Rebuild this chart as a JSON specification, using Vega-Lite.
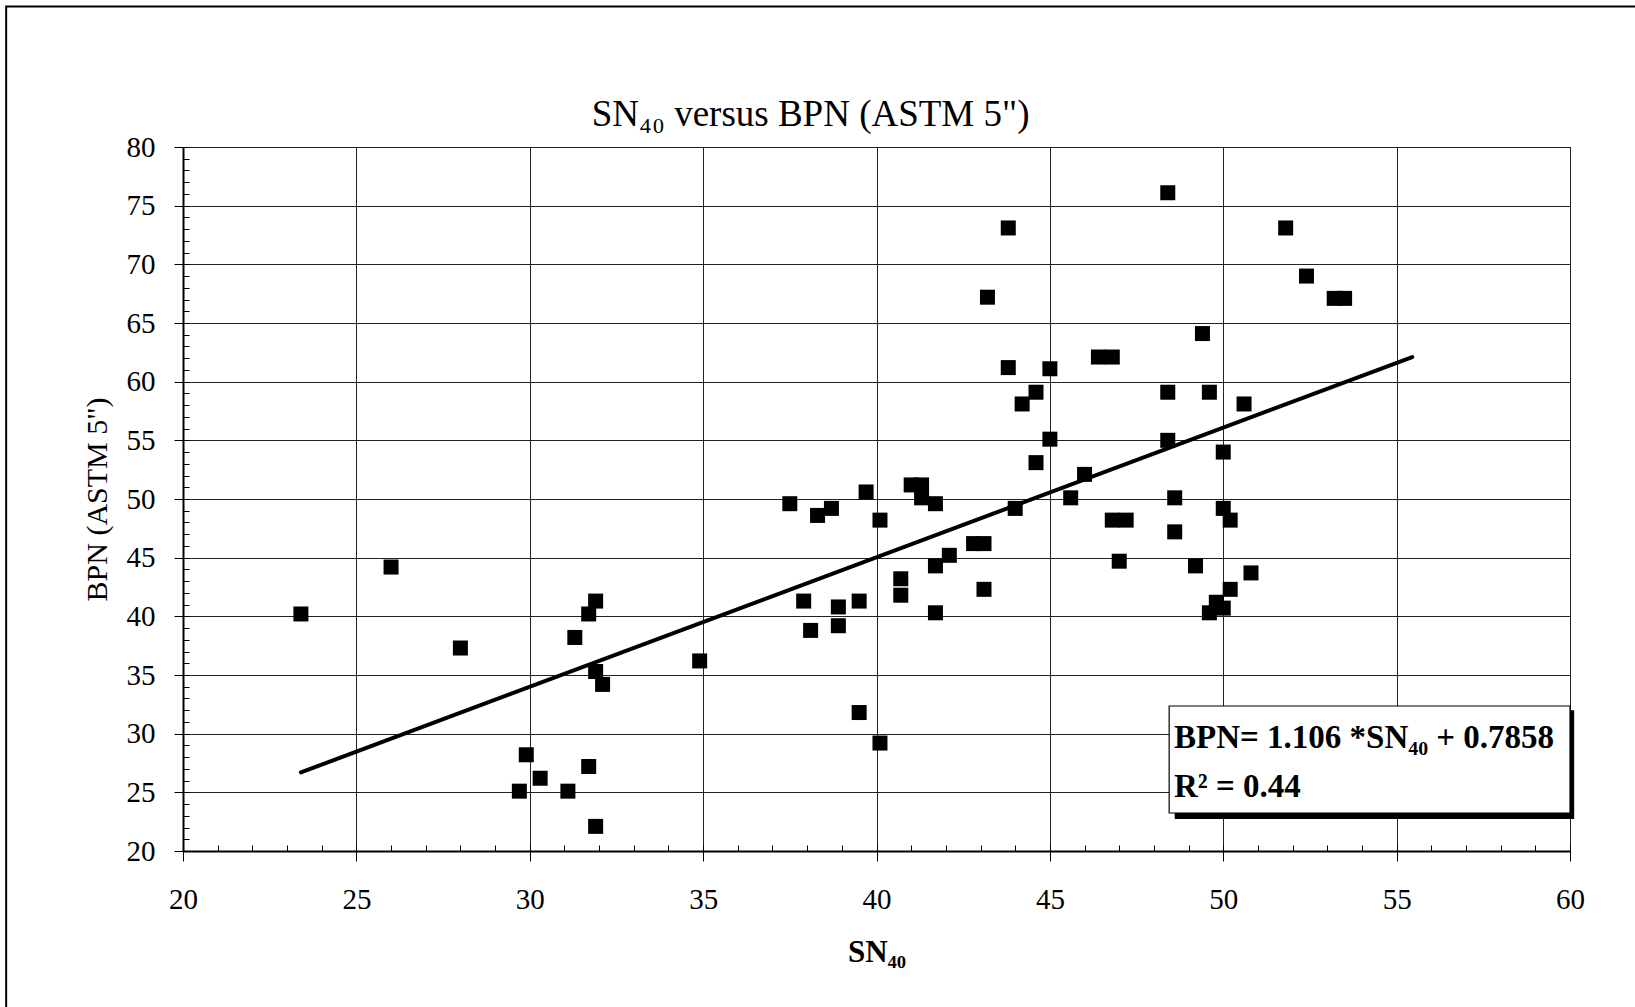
{
  "$schema": "https://vega.github.io/schema/vega-lite/v6.json",
  "width": 1387,
  "height": 704,
  "autosize": "none",
  "padding": {"left": 183, "top": 147, "right": 65, "bottom": 156},
  "background": "white",
  "config": {
    "view": {"stroke": "#000", "strokeWidth": 1},
    "font": "Liberation Serif"
  },
  "datasets": {
    "points": [
      {"SN40": 23.4, "BPN": 40.2}, {"SN40": 26.0, "BPN": 44.2}, {"SN40": 28.0, "BPN": 37.3},
      {"SN40": 29.9, "BPN": 28.2}, {"SN40": 29.7, "BPN": 25.1}, {"SN40": 30.3, "BPN": 26.2},
      {"SN40": 31.1, "BPN": 25.1}, {"SN40": 31.3, "BPN": 38.2}, {"SN40": 31.7, "BPN": 40.2},
      {"SN40": 31.9, "BPN": 41.3}, {"SN40": 31.9, "BPN": 35.3}, {"SN40": 32.1, "BPN": 34.2},
      {"SN40": 31.7, "BPN": 27.2}, {"SN40": 31.9, "BPN": 22.1}, {"SN40": 34.9, "BPN": 36.2},
      {"SN40": 37.5, "BPN": 49.6}, {"SN40": 37.9, "BPN": 41.3}, {"SN40": 38.1, "BPN": 38.8},
      {"SN40": 38.3, "BPN": 48.6}, {"SN40": 38.7, "BPN": 49.2}, {"SN40": 38.9, "BPN": 40.8},
      {"SN40": 38.9, "BPN": 39.2}, {"SN40": 39.5, "BPN": 41.3}, {"SN40": 39.5, "BPN": 31.8},
      {"SN40": 39.7, "BPN": 50.6}, {"SN40": 40.1, "BPN": 48.2}, {"SN40": 40.1, "BPN": 29.2},
      {"SN40": 40.7, "BPN": 43.2}, {"SN40": 40.7, "BPN": 41.8}, {"SN40": 41.0, "BPN": 51.2},
      {"SN40": 41.3, "BPN": 51.2}, {"SN40": 41.3, "BPN": 50.1}, {"SN40": 41.7, "BPN": 49.6},
      {"SN40": 41.7, "BPN": 44.3}, {"SN40": 41.7, "BPN": 40.3}, {"SN40": 42.1, "BPN": 45.2},
      {"SN40": 42.8, "BPN": 46.2}, {"SN40": 43.1, "BPN": 46.2}, {"SN40": 43.1, "BPN": 42.3},
      {"SN40": 43.2, "BPN": 67.2}, {"SN40": 43.8, "BPN": 73.1}, {"SN40": 43.8, "BPN": 61.2},
      {"SN40": 44.0, "BPN": 49.2}, {"SN40": 44.2, "BPN": 58.1}, {"SN40": 44.6, "BPN": 59.1},
      {"SN40": 44.6, "BPN": 53.1}, {"SN40": 45.0, "BPN": 61.1}, {"SN40": 45.0, "BPN": 55.1},
      {"SN40": 45.6, "BPN": 50.1}, {"SN40": 46.0, "BPN": 52.1}, {"SN40": 46.4, "BPN": 62.1},
      {"SN40": 46.8, "BPN": 62.1}, {"SN40": 46.8, "BPN": 48.2}, {"SN40": 47.2, "BPN": 48.2},
      {"SN40": 47.0, "BPN": 44.7}, {"SN40": 48.4, "BPN": 76.1}, {"SN40": 48.4, "BPN": 59.1},
      {"SN40": 48.4, "BPN": 55.0}, {"SN40": 48.6, "BPN": 50.1}, {"SN40": 48.6, "BPN": 47.2},
      {"SN40": 49.2, "BPN": 44.3}, {"SN40": 49.4, "BPN": 64.1}, {"SN40": 49.6, "BPN": 59.1},
      {"SN40": 49.6, "BPN": 40.3}, {"SN40": 49.8, "BPN": 41.2}, {"SN40": 50.0, "BPN": 54.0},
      {"SN40": 50.0, "BPN": 49.2}, {"SN40": 50.0, "BPN": 40.7}, {"SN40": 50.2, "BPN": 48.2},
      {"SN40": 50.2, "BPN": 42.3}, {"SN40": 50.6, "BPN": 58.1}, {"SN40": 50.8, "BPN": 43.7},
      {"SN40": 51.8, "BPN": 73.1}, {"SN40": 52.4, "BPN": 69.0}, {"SN40": 53.2, "BPN": 67.1},
      {"SN40": 53.5, "BPN": 67.1}
    ],
    "fit": [
      {"SN40": 23.4, "BPN": 26.7},
      {"SN40": 55.45, "BPN": 62.1}
    ]
  },
  "resolve": {"axis": {"x": "independent", "y": "independent"}},
  "layer": [
    {
      "data": {"values": [{}]},
      "mark": {"type": "rect", "fill": null, "stroke": "#000", "strokeWidth": 2},
      "encoding": {
        "x": {"datum": 14.9, "type": "quantitative", "axis": null},
        "x2": {"datum": 70},
        "y": {"datum": 91.97, "type": "quantitative", "axis": null},
        "y2": {"datum": 0}
      }
    },
    {
      "data": {"name": "points"},
      "mark": {"type": "square", "size": 225, "filled": true, "color": "#000", "opacity": 1},
      "encoding": {
        "x": {
          "field": "SN40", "type": "quantitative",
          "scale": {"domain": [20, 60], "nice": false, "zero": false},
          "axis": {
            "orient": "bottom",
            "values": [20, 25, 30, 35, 40, 45, 50, 55, 60],
            "grid": true, "gridColor": "#222", "gridWidth": 1,
            "domainColor": "#000", "domainWidth": 2,
            "tickColor": "#000", "tickSize": 10, "tickWidth": 1,
            "labelFont": "Liberation Serif", "labelFontSize": 29, "labelColor": "#000", "labelPadding": 24,
            "labelFlush": false, "labelOverlap": false,
            "title": "SN₄₀", "titleFont": "Liberation Serif", "titleFontSize": 31, "titleFontWeight": "bold",
            "titleColor": "#000", "titlePadding": 23
          }
        },
        "y": {
          "field": "BPN", "type": "quantitative",
          "scale": {"domain": [20, 80], "nice": false, "zero": false},
          "axis": {
            "orient": "left",
            "values": [20, 25, 30, 35, 40, 45, 50, 55, 60, 65, 70, 75, 80],
            "grid": true, "gridColor": "#222", "gridWidth": 1,
            "domainColor": "#000", "domainWidth": 2,
            "tickColor": "#000", "tickSize": 9, "tickWidth": 1,
            "labelFont": "Liberation Serif", "labelFontSize": 29, "labelColor": "#000", "labelPadding": 19,
            "labelFlush": false, "labelOverlap": false,
            "title": "BPN (ASTM 5\")", "titleFont": "Liberation Serif", "titleFontSize": 30, "titleFontWeight": "normal",
            "titleColor": "#000", "titlePadding": 14
          }
        }
      }
    },
    {
      "data": {"name": "fit"},
      "mark": {"type": "line", "color": "#000", "strokeWidth": 4, "strokeCap": "round"},
      "encoding": {
        "x": {
          "field": "SN40", "type": "quantitative",
          "axis": {
            "orient": "bottom",
            "values": [20,21,22,23,24,25,26,27,28,29,30,31,32,33,34,35,36,37,38,39,40,41,42,43,44,45,46,47,48,49,50,51,52,53,54,55,56,57,58,59,60],
            "grid": false, "domain": false, "labels": false, "title": null,
            "tickColor": "#000", "tickSize": -6, "tickWidth": 1
          }
        },
        "y": {
          "field": "BPN", "type": "quantitative",
          "axis": {
            "orient": "left",
            "values": [20,21,22,23,24,25,26,27,28,29,30,31,32,33,34,35,36,37,38,39,40,41,42,43,44,45,46,47,48,49,50,51,52,53,54,55,56,57,58,59,60,61,62,63,64,65,66,67,68,69,70,71,72,73,74,75,76,77,78,79,80],
            "grid": false, "domain": false, "labels": false, "title": null,
            "tickColor": "#000", "tickSize": -6, "tickWidth": 1
          }
        }
      }
    },
    {
      "data": {"values": [{}]},
      "mark": {"type": "rect", "fill": "#000"},
      "encoding": {
        "x": {"datum": 48.6, "type": "quantitative", "axis": null},
        "x2": {"datum": 60.12},
        "y": {"datum": 32.0, "type": "quantitative", "axis": null},
        "y2": {"datum": 22.73}
      }
    },
    {
      "data": {"values": [{}]},
      "mark": {"type": "rect", "fill": "#fff", "stroke": "#000", "strokeWidth": 1.2},
      "encoding": {
        "x": {"datum": 48.44, "type": "quantitative", "axis": null},
        "x2": {"datum": 60},
        "y": {"datum": 32.36, "type": "quantitative", "axis": null},
        "y2": {"datum": 23.24}
      }
    },
    {
      "data": {"values": [{}]},
      "mark": {"type": "text", "align": "left", "baseline": "alphabetic", "font": "Liberation Serif", "fontSize": 33, "fontWeight": "bold", "color": "#000"},
      "encoding": {
        "x": {"datum": 48.58, "type": "quantitative", "axis": null},
        "y": {"datum": 28.8, "type": "quantitative", "axis": null},
        "text": {"value": "BPN= 1.106 *SN₄₀ + 0.7858"}
      }
    },
    {
      "data": {"values": [{}]},
      "mark": {"type": "text", "align": "left", "baseline": "alphabetic", "font": "Liberation Serif", "fontSize": 33, "fontWeight": "bold", "color": "#000"},
      "encoding": {
        "x": {"datum": 48.58, "type": "quantitative", "axis": null},
        "y": {"datum": 24.6, "type": "quantitative", "axis": null},
        "text": {"value": "R² = 0.44"}
      }
    },
    {
      "data": {"values": [{}]},
      "mark": {"type": "text", "align": "center", "baseline": "alphabetic", "font": "Liberation Serif", "fontSize": 37, "fontWeight": "normal", "color": "#000"},
      "encoding": {
        "x": {"datum": 38.1, "type": "quantitative", "axis": null},
        "y": {"datum": 81.8, "type": "quantitative", "axis": null},
        "text": {"value": "SN₄₀ versus BPN (ASTM 5\")"}
      }
    }
  ]
}
